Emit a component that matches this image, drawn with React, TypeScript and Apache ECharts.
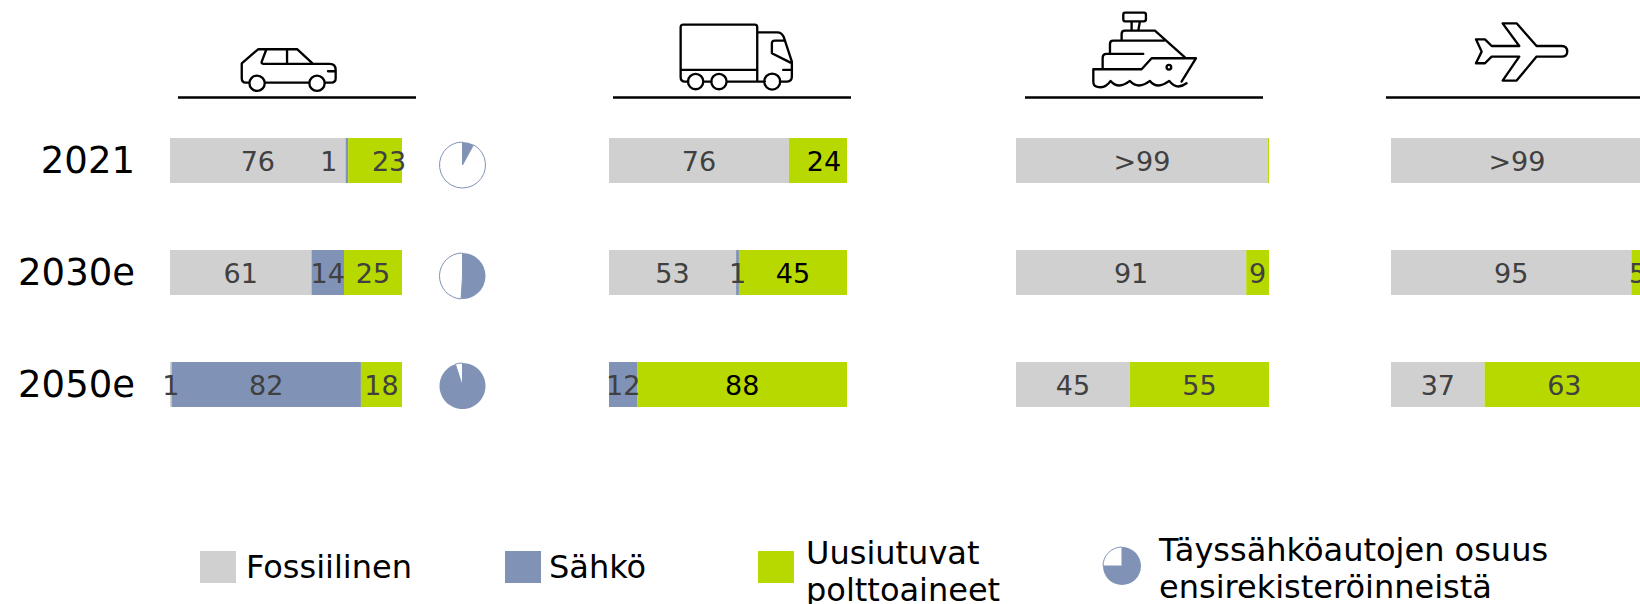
import React, { useEffect, useRef } from "react";
import * as echarts from "echarts";

const years = ["2021", "2030e", "2050e"];

const carFossil = [75.7, 61, 0.7];
const carElectric = [1.1, 14, 81.6];
const carRenewable = [23.2, 25, 17.7];

const truckFossil = [75.6, 53.4, null];
const truckElectric = [null, 1.2, 12];
const truckRenewable = [24.4, 45.4, 88];

const shipFossil = [99.5, 91, 45];
const shipElectric = [null, null, null];
const shipRenewable = [0.5, 9, 55];

const planeFossil = [99.5, 95, 37];
const planeElectric = [null, null, null];
const planeRenewable = [0.5, 5, 63];

const bevShare = [8, 51, 95];
const legendBevShare = [75];

const fossilName = "Fossiilinen";
const electricName = "Sähkö";
const renewableName = "Uusiutuvat\npolttoaineet";
const bevName = "Täyssähköautojen osuus\nensirekisteröinneistä";

const GREY = "#D0D0D0";
const BLUE = "#8093B6";
const GREEN = "#B7D900";
const FONT = "'DejaVu Sans', Verdana, sans-serif";
const LABEL = "#404040";

const carPaths =
  "M748,248H738Q726,248 726,235V190L775,148H893L940,192H990Q1008,192 1008,210V235Q1008,248 995,248H975 M928,248H795 " +
  "M800,148L786,185Q784,192 792,192H940 M862,148V192 M985,214H1008 " +
  "M795,250A23,23 0 1 1 749,250A23,23 0 1 1 795,250Z M975,250A23,23 0 1 1 929,250A23,23 0 1 1 975,250Z";
const truckPaths =
  "M85,215H75Q62,215 62,202V52Q62,44 70,44H285Q292,44 292,52V215 M62,180H292 M130,215H155 M200,215H315 " +
  "M360,215H382Q396,215 396,200V155L372,82Q366,67 352,67H292 M372,92H345Q336,92 336,100V130L392,158 M370,180H396 " +
  "M130,215A23,23 0 1 1 84,215A23,23 0 1 1 130,215Z M200,215A23,23 0 1 1 154,215A23,23 0 1 1 200,215Z " +
  "M361,215A24,24 0 1 1 313,215A24,24 0 1 1 361,215Z";
const shipPaths =
  "M135,38H192Q198,38 198,44V58Q198,64 192,64H135Q130,64 130,58V44Q130,38 135,38Z M155,64V92 M180,64L175,92 " +
  "M125,122V102Q125,92 135,92H225L315,172 M90,160V132Q90,122 100,122H252 M68,205V175Q68,162 80,162H190 " +
  "M40,208H185L215,175H348L305,245 M40,208V245Q40,258 50,260 " +
  "M50,260Q75,268 92,243Q115,270 150,243Q175,270 210,243Q232,270 268,243Q290,272 320,250 " +
  "M274,202A7,7 0 1 1 260,202A7,7 0 1 1 274,202Z";
const planePaths =
  "M48,88H75L95,108H178L128,40H170L230,108H305Q322,108 322,125Q322,140 305,140H230L170,212H128L178,140H95L75,160H48L65,125Z";

echarts.graphic.registerShape("carIcon", echarts.graphic.extendPath(carPaths, {}));
echarts.graphic.registerShape("truckIcon", echarts.graphic.extendPath(truckPaths, {}));
echarts.graphic.registerShape("shipIcon", echarts.graphic.extendPath(shipPaths, {}));
echarts.graphic.registerShape("planeIcon", echarts.graphic.extendPath(planePaths, {}));

const panels = [
  { left: 170, width: 232, values: [carFossil, carElectric, carRenewable], inkGreen: LABEL, shift: { "1-0": -18, "2-0": 14 } },
  { left: 609, width: 238, values: [truckFossil, truckElectric, truckRenewable], inkGreen: "#000000", shift: { "2-0": 6 } },
  { left: 1016, width: 253, values: [shipFossil, shipElectric, shipRenewable], inkGreen: LABEL, shift: {} },
  { left: 1391, width: 253, values: [planeFossil, planeElectric, planeRenewable], inkGreen: LABEL, shift: {} },
];

const segColors = [GREY, BLUE, GREEN];
const segNames = ["Fossiilinen", "Sähkö", "Uusiutuvat polttoaineet"];

const fmt = (p: any) => {
  const v = typeof p.value === "number" ? p.value : null;
  if (v == null) return "";
  if (v > 99) return ">99";
  if (v < 0.6) return "";
  return String(Math.round(v));
};

function pie(share: number, cx: number, cy: number, r: number) {
  return {
    type: "pie",
    silent: true,
    center: [cx, cy],
    radius: [0, r],
    startAngle: 90,
    clockwise: true,
    label: { show: false },
    labelLine: { show: false },
    emphasis: { disabled: true },
    data: [
      { value: share, itemStyle: { color: BLUE, borderWidth: 0 } },
      { value: 100 - share, itemStyle: { color: "#ffffff", borderColor: BLUE, borderWidth: 1 } },
    ],
  };
}

function icon(type: string, x: number, y: number) {
  return {
    type,
    x,
    y,
    scaleX: 1 / 3,
    scaleY: 1 / 3,
    silent: true,
    style: { fill: "none", stroke: "#000", lineWidth: 7, lineJoin: "round", lineCap: "round" },
  };
}

function rule(x1: number, x2: number) {
  return { type: "line", silent: true, shape: { x1, y1: 97.5, x2, y2: 97.5 }, style: { stroke: "#000", lineWidth: 2.5 } };
}

function swatch(x: number, color: string) {
  return { type: "rect", silent: true, shape: { x, y: 551, width: 36, height: 32 }, style: { fill: color } };
}

function legendText(x: number, y: number, text: string, lineHeight: number) {
  return {
    type: "text",
    silent: true,
    x,
    y,
    style: { text, fill: "#000", fontSize: 32, fontFamily: FONT, lineHeight, verticalAlign: "middle", align: "left" },
  };
}

export default function App() {
  const ref = useRef<HTMLDivElement>(null);
  useEffect(() => {
    document.body.style.margin = "0";
    const chart = echarts.init(ref.current!, undefined, { renderer: "svg" });
    const series: any[] = [];
    panels.forEach((pn, pi) => {
      pn.values.forEach((vals, si) => {
        series.push({
          type: "bar",
          name: segNames[si],
          xAxisIndex: pi,
          yAxisIndex: pi,
          stack: "p" + pi,
          barWidth: 45,
          silent: true,
          itemStyle: { color: segColors[si] },
          label: {
            show: true,
            position: "inside",
            formatter: fmt,
            fontSize: 27,
            fontFamily: FONT,
            offset: [0, 1],
            color: si === 2 ? pn.inkGreen : LABEL,
          },
          data: (vals as any[]).map((v, i) => {
            const dx = (pn.shift as any)[`${si}-${i}`];
            return dx ? { value: v, label: { offset: [dx, 1] } } : v;
          }),
        });
      });
    });
    bevShare.forEach((s, i) => series.push(pie(s, 462.5, [165, 276, 386][i], 23)));
    series.push(pie(legendBevShare[0], 1122, 566, 19));

    chart.setOption({
      animation: false,
      textStyle: { fontFamily: FONT },
      grid: panels.map((pn) => ({ left: pn.left, width: pn.width, top: 104.5, height: 336, containLabel: false })),
      xAxis: panels.map((_, i) => ({ type: "value", gridIndex: i, min: 0, max: 100, show: false })),
      yAxis: panels.map((_, i) => ({
        type: "category",
        gridIndex: i,
        inverse: true,
        data: years,
        show: i === 0,
        axisLine: { show: false },
        axisTick: { show: false },
        axisLabel: { show: i === 0, fontSize: 37, color: "#000", fontFamily: FONT, margin: 35, padding: [0, 0, 7, 0] },
      })),
      series,
      graphic: [
        icon("carIcon", 0, 0),
        icon("truckIcon", 660, 10),
        icon("shipIcon", 1080, 0),
        icon("planeIcon", 1460, 10),
        rule(178, 416),
        rule(613, 851),
        rule(1025, 1263),
        rule(1386, 1640),
        swatch(200, GREY),
        swatch(505, BLUE),
        swatch(758, GREEN),
        legendText(246, 567, fossilName, 38),
        legendText(549, 567, electricName, 38),
        legendText(806, 571, renewableName, 37),
        legendText(1159, 568, bevName, 37),
      ],
    });
    return () => chart.dispose();
  }, []);
  return (
    <div style={{ width: 1640, height: 604, overflow: "hidden", position: "relative" }}>
      <div ref={ref} style={{ width: 1660, height: 604 }} />
    </div>
  );
}
